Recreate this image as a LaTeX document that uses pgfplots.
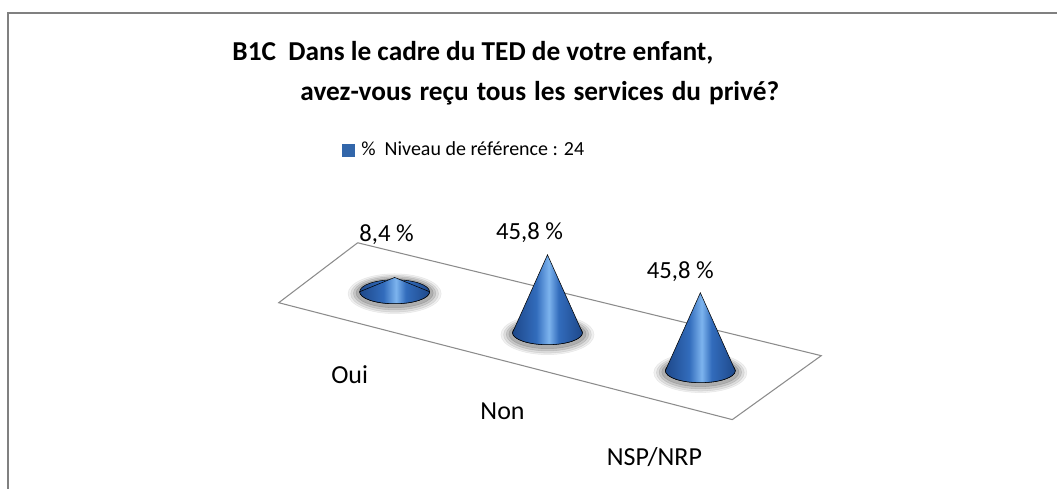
\documentclass[border=0pt]{standalone}
\usepackage{pgfplots}
\pgfplotsset{compat=1.18}
\usepackage{fontspec}
\setmainfont{Carlito}
\definecolor{coneDark}{RGB}{30,72,138}
\definecolor{coneMid}{RGB}{50,108,188}
\definecolor{coneLight}{RGB}{125,180,238}
\definecolor{legblue}{RGB}{50,102,170}
\definecolor{framegray}{RGB}{128,128,128}
\definecolor{floorgray}{RGB}{140,140,140}
\pgfdeclarehorizontalshading{conebody}{100bp}{color(0bp)=(coneDark); color(25bp)=(coneDark); color(42bp)=(coneMid); color(51bp)=(coneLight); color(58bp)=(coneMid); color(75bp)=(coneDark); color(100bp)=(coneDark)}
\pgfdeclareplotmark{cone}{%
  \fill[black, opacity=0.06] (0,-1.5pt) ellipse [x radius=35pt, y radius=15pt];
  \fill[black, opacity=0.08] (0,-1.5pt) ellipse [x radius=33pt, y radius=13.8pt];
  \fill[black, opacity=0.10] (0,-1.2pt) ellipse [x radius=31pt, y radius=12.5pt];
  \fill[black, opacity=0.12] (0,-1pt) ellipse [x radius=29pt, y radius=11pt];
  \shade[shading=conebody] (0,0) ellipse [x radius=26.25pt, y radius=9pt];
  \shade[shading=conebody] (-26.25pt,0) -- (0,\coneh pt) -- (26.25pt,0)
     arc[start angle=0, end angle=-180, x radius=26.25pt, y radius=9pt] -- cycle;
}
\pgfplotstableread{
x   y   v
395 292 8.4
548 333 45.8
701 371 45.8
}\conedata
\begin{document}
\begin{tikzpicture}
\begin{axis}[
  x=0.75pt, y=0.75pt,
  xmin=0, xmax=1058, ymin=0, ymax=489,
  y dir=reverse,
  hide axis, clip=false,
  legend style={at={(axis description cs:0.323,0.693)}, anchor=west,
    draw=none, fill=none, inner sep=0pt, font=\fontsize{15}{17}\selectfont,
    legend cell align=left},
]
% keep the full canvas as bounding box
\addplot[draw=none, mark=none, forget plot] coordinates {(0,0) (1058,489)};
% frame
\addplot[framegray, line width=1.5pt, forget plot] coordinates {(8,489) (8,13) (1058,13)};
% floor
\addplot[floorgray, line width=0.8pt, forget plot] coordinates {(358,243) (822,356) (733,420) (279,303) (358,243)};
% cones
\addplot[scatter, only marks, mark=cone,
  scatter/use mapped color={draw=none, fill=none},
  visualization depends on={1.277*\thisrow{v} \as \coneh},
  legend image code/.code={\fill[legblue] (0pt,-4.5pt) rectangle (9pt,4.5pt);},
] table[x=x, y=y] {\conedata};
\addlegendentry{\ \% \ Niveau de référence : 24}
% title
\node[anchor=base west, font=\fontsize{20.5}{24}\selectfont\bfseries] at (axis cs:228,61) {B1C\ \ Dans le cadre du TED de votre enfant,};
\node[anchor=base west, font=\fontsize{20.5}{24}\selectfont\bfseries] at (axis cs:296,101) {\spaceskip=6pt plus 1pt\relax avez-vous reçu tous les services du privé?};
% data labels
\node[font=\fontsize{18.5}{20}\selectfont] at (axis cs:387,235) {8,4 \%};
\node[font=\fontsize{18.5}{20}\selectfont] at (axis cs:530,233) {45,8 \%};
\node[font=\fontsize{18.5}{20}\selectfont] at (axis cs:681,272) {45,8 \%};
% category labels
\node[font=\fontsize{19.5}{21}\selectfont] at (axis cs:350,375) {Oui};
\node[font=\fontsize{19.5}{21}\selectfont] at (axis cs:503,412) {Non};
\node[font=\fontsize{19.5}{21}\selectfont] at (axis cs:655,457) {NSP/NRP};
\end{axis}
\end{tikzpicture}
\end{document}
